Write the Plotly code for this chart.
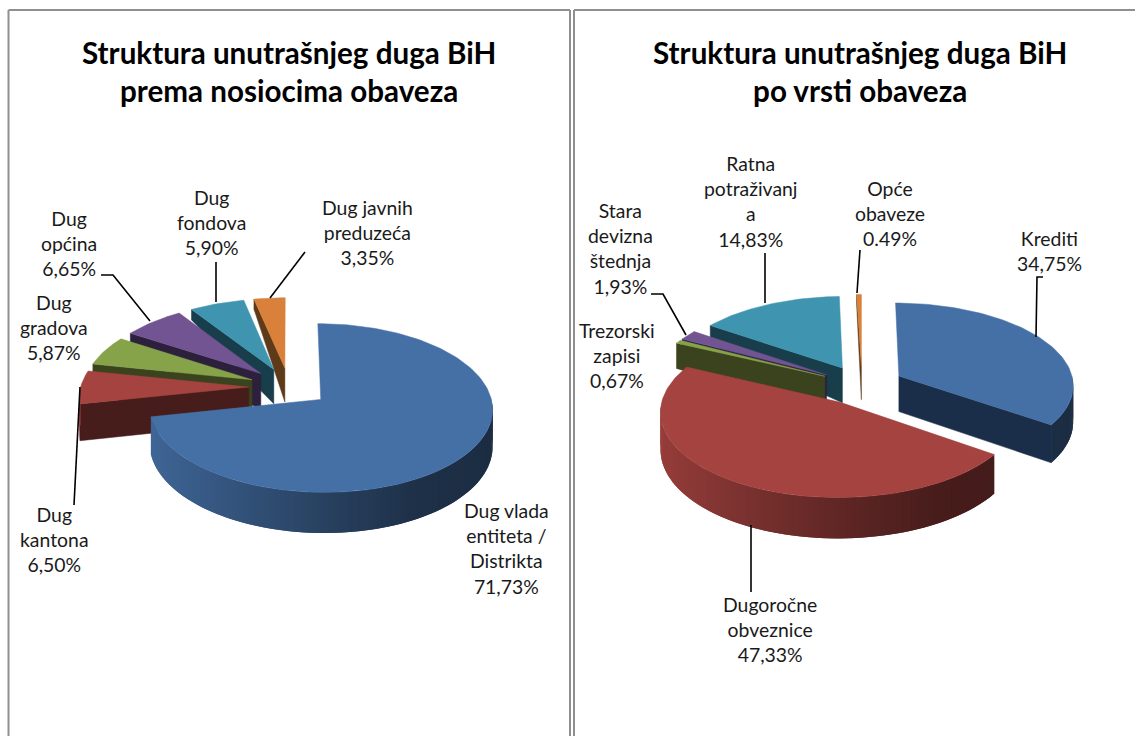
import math
import plotly.graph_objects as go

# ---- data ----
titles = ["Struktura unutrašnjeg duga BiH<br>prema nosiocima obaveza",
          "Struktura unutrašnjeg duga BiH<br>po vrsti obaveza"]
holders = ["Dug vlada<br>entiteta /<br>Distrikta", "Dug<br>kantona", "Dug<br>gradova",
           "Dug<br>općina", "Dug<br>fondova", "Dug javnih<br>preduzeća"]
holder_values = [71.73, 6.50, 5.87, 6.65, 5.90, 3.35]
holder_texts = ["71,73%", "6,50%", "5,87%", "6,65%", "5,90%", "3,35%"]
kinds = ["Krediti", "Dugoročne<br>obveznice", "Trezorski<br>zapisi",
         "Stara<br>devizna<br>štednja", "Ratna<br>potraživanj<br>a", "Opće<br>obaveze"]
kind_values = [34.75, 47.33, 0.67, 1.93, 14.83, 0.49]
kind_texts = ["34,75%", "47,33%", "0,67%", "1,93%", "14,83%", "0.49%"]

# ---- style ----
tops = ["#4570A6", "#A54340", "#87A34A", "#725492", "#3F95AF", "#D9813B"]
dark = ["#1A2E49", "#461D1A", "#3A431E", "#2D203D", "#183D4B", "#5E3A18"]
FONT = "Lato"
TEXT = "#1a1a1a"

left_geo = dict(cx=289, cy=387, rx=168, ry=81, pull=0.24, k=0.10)
right_geo = dict(cx=862, cy=385, rx=175, ry=82, pull=0.24, k=0.10)

left_pos = [(506, 548), (54, 539), (54, 327), (69, 243), (211, 222), (367, 232)]
right_pos = [(1049, 251), (770, 629), (617, 355), (620, 248), (751, 201), (890, 213)]
leaders = [
    [(80, 387), (74, 505)],
    [(101, 275), (113, 275), (150, 321)],
    [(216, 262), (216, 302)],
    [(305, 252), (270, 298)],
    [(1043, 277), (1037, 277), (1036, 337)],
    [(765, 253), (765, 303)],
    [(860, 250), (857, 293)],
    [(651, 294), (663, 294), (686, 335)],
    [(751, 525), (751, 592)],
]

SHADE = [(-1.0, 0.92), (0.0, 0.58), (0.5, 0.43), (1.0, 0.40)]


def shade(t):
    s = math.sin(math.radians(t))
    for (a, sa), (b, sb) in zip(SHADE, SHADE[1:]):
        if a <= s <= b:
            return sa + (sb - sa) * (s - a) / (b - a)
    return SHADE[-1][1]


def rgb(hexcol, f=1.0):
    h = hexcol.lstrip("#")
    return "rgb({},{},{})".format(*[round(int(h[i:i + 2], 16) * f) for i in (0, 2, 4)])


def poly(fig, pts, color, name, lw=0.5):
    fig.add_trace(go.Scatter(
        x=[p[0] for p in pts] + [pts[0][0]], y=[p[1] for p in pts] + [pts[0][1]],
        mode="lines", fill="toself", fillcolor=color,
        line=dict(color=color, width=lw), name=name, hoverinfo="name",
        showlegend=False))


def depth(Y):
    d = 36 + 4 * Y if Y > -0.2 else 35 + (Y + 0.2) * 28.75
    return max(10, d)


def draw_pie(fig, values, names, geo):
    total = sum(values)
    cx, cy, rx, ry, pull, k = (geo[n] for n in ("cx", "cy", "rx", "ry", "pull", "k"))
    slices, acc = [], 0.0
    for i, v in enumerate(values):
        t0 = acc / total * 360
        acc += v
        slices.append((i, t0, acc / total * 360))
    slices.sort(key=lambda s: -math.cos(math.radians((s[1] + s[2]) / 2)))

    for i, t0, t1 in slices:
        m = math.radians((t0 + t1) / 2)
        ox, oy = pull * math.sin(m), -pull * math.cos(m)

        def world(t, r=1.0):
            a = math.radians(t)
            return ox + r * math.sin(a), oy - r * math.cos(a)

        def top(t, r=1.0):
            X, Y = world(t, r)
            w = 1 - k * Y
            return cx + rx * X / w, cy + ry * Y / w

        def low(t, r=1.0):
            x, y = top(t, r)
            return x, y + depth(world(t, r)[1])

        name = names[i].replace("<br>", " ") + f" {values[i]}%"
        n = max(2, int((t1 - t0) / 1.5))
        ts = [t0 + (t1 - t0) * j / n for j in range(n + 1)]
        if math.sin(math.radians(t0)) < -1e-9:
            poly(fig, [top(t0, 0), top(t0), low(t0), low(t0, 0)], dark[i], name)
        if math.sin(math.radians(t1)) > 1e-9:
            poly(fig, [top(t1, 0), top(t1), low(t1), low(t1, 0)], dark[i], name)
        vis = [t for t in ts if 90 <= t <= 270]
        # each band reaches over the next one, so no seam shows between bands
        for j in range(len(vis) - 1):
            span = vis[j:j + 3]
            poly(fig, [top(t) for t in span] + [low(t) for t in reversed(span)],
                 rgb(tops[i], shade((vis[j] + vis[j + 1]) / 2)), name, lw=0)
        poly(fig, [top(t0, 0)] + [top(t) for t in ts], tops[i], name)


fig = go.Figure()
draw_pie(fig, holder_values, holders, left_geo)
draw_pie(fig, kind_values, kinds, right_geo)

for path in leaders:
    fig.add_trace(go.Scatter(x=[p[0] for p in path], y=[p[1] for p in path], mode="lines",
                             line=dict(color="#000000", width=1.6), hoverinfo="skip",
                             showlegend=False))

annotations = []
for (x, txt) in zip((289, 860), titles):
    annotations.append(dict(x=x, y=71, text=f"<b>{txt}</b>", showarrow=False, align="center",
                            font=dict(family=FONT, size=29.6, color="#000000")))
for nm, tx, pos in list(zip(holders, holder_texts, left_pos)) + list(zip(kinds, kind_texts, right_pos)):
    annotations.append(dict(x=pos[0], y=pos[1], text=f"{nm}<br>{tx}", showarrow=False, align="center",
                            font=dict(family=FONT, size=19.4, color=TEXT)))

frame = [((8.5, 736), (8.5, 10), (570, 10), (570, 736)), ((574, 736), (574, 10), (1135, 10))]
shapes = []
for seg in frame:
    for a, b in zip(seg, seg[1:]):
        shapes.append(dict(type="line", xref="x", yref="y", x0=a[0], y0=a[1], x1=b[0], y1=b[1],
                           line=dict(color="#8f8f8f", width=2), layer="below"))

fig.update_layout(
    width=1135, height=736, margin=dict(l=0, r=0, t=0, b=0),
    paper_bgcolor="white", plot_bgcolor="white", showlegend=False,
    xaxis=dict(range=[0, 1135], visible=False, fixedrange=True),
    yaxis=dict(range=[736, 0], visible=False, fixedrange=True),
    annotations=annotations, shapes=shapes,
)
fig.write_html("out.html", config=dict(displayModeBar=False),
               post_script="document.body.style.margin='0';document.body.style.overflow='hidden';")
